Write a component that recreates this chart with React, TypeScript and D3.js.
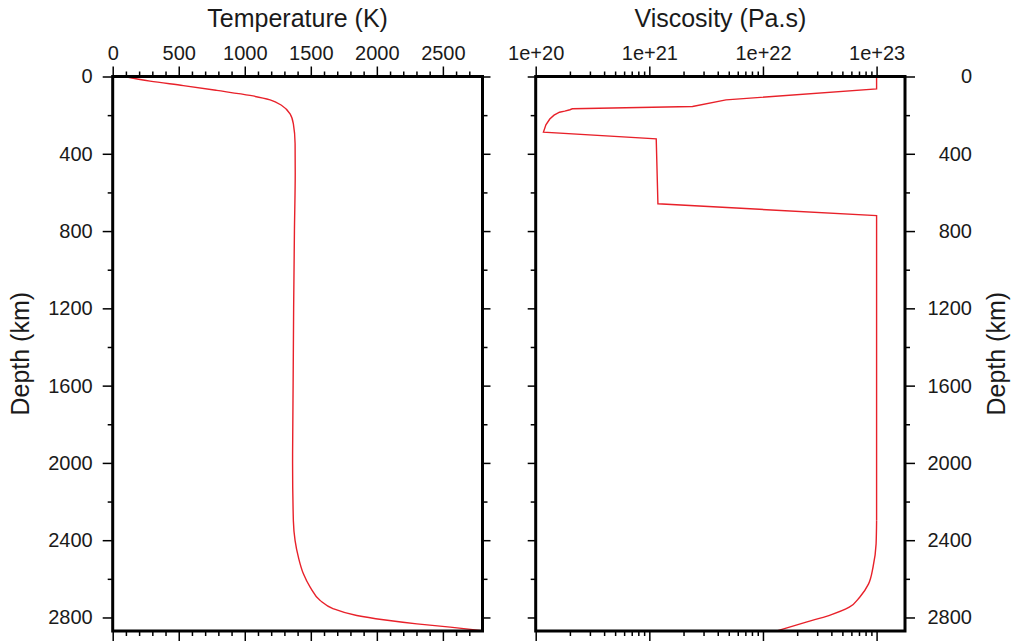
import { useEffect, useRef } from 'react';
import * as d3 from 'd3';

// temperature profile (depth in km, temperature in K)
const tempDepth = [0, 24, 47, 72, 98, 121, 150, 193, 245, 348, 500, 800, 1200, 1600, 2000, 2300, 2402, 2488, 2574, 2643, 2712, 2755, 2790, 2812, 2833, 2850, 2868];
const temperature = [90, 283, 535, 788, 1040, 1192, 1280, 1343, 1368, 1381, 1382, 1376, 1370, 1366, 1362, 1368, 1381, 1406, 1444, 1495, 1571, 1671, 1848, 2050, 2303, 2555, 2795];

// viscosity profile (depth in km, viscosity in Pa.s)
const viscDepth = [0, 64, 121, 155, 167, 172, 179, 185, 200, 220, 250, 288, 323, 659, 720, 2300, 2419, 2540, 2626, 2695, 2747, 2790, 2824, 2868];
const viscosity = [1e23, 1e23, 4.73e21, 2.4e21, 2.1e20, 2.0e20, 1.8e20, 1.62e20, 1.45e20, 1.33e20, 1.23e20, 1.17e20, 1.15e21, 1.19e21, 1e23, 1e23, 9.9e22, 9.3e22, 8.5e22, 7.1e22, 5.75e22, 3.8e22, 2.4e22, 1.35e22];

const depthTicks = [0, 400, 800, 1200, 1600, 2000, 2400, 2800];
const depthMinor = [200, 600, 1000, 1400, 1800, 2200, 2600];
const tempTicks = [0, 500, 1000, 1500, 2000, 2500];
const viscTicks = [1e20, 1e21, 1e22, 1e23];

const FONT = '"Liberation Sans", Arial, Helvetica, sans-serif';

export default function App() {
  const svgRef = useRef(null);

  useEffect(() => {
    const svg = d3.select(svgRef.current);
    svg.selectAll('*').remove();

    const top = 76.5;
    const bottom = 631;
    const left1 = 112.7, right1 = 482.5;
    const left2 = 535.7, right2 = 905;

    const y = d3.scaleLinear().domain([0, 2870]).range([top, bottom]);
    const xT = d3.scaleLinear().domain([0, 2800]).range([left1, right1]);
    const xV = d3.scaleLog().domain([1e20, Math.pow(10, 23.25)]).range([left2, right2]);

    const tempMinor = d3.range(100, 2800, 100).filter(v => v % 500 !== 0);
    const viscMinor: number[] = [];
    [20, 21, 22].forEach(e => {
      for (let m = 2; m <= 9; m++) viscMinor.push(m * Math.pow(10, e));
    });

    const styleAxis = (g) => {
      g.select('.domain').remove();
      g.selectAll('line').attr('stroke', '#000').attr('stroke-width', 1.5);
      g.selectAll('text')
        .attr('font-family', FONT)
        .attr('font-size', 20)
        .attr('fill', '#1a1a1a');
    };

    const addAxis = (axis, tx, ty) => {
      const g = svg.append('g').attr('transform', `translate(${tx},${ty})`).call(axis);
      styleAxis(g);
      return g;
    };

    // left panel axes
    addAxis(d3.axisTop(xT).tickValues(tempTicks).tickSize(10).tickPadding(7).tickFormat(d3.format('d')), 0, top);
    addAxis(d3.axisTop(xT).tickValues(tempMinor).tickSize(5).tickFormat(() => ''), 0, top);
    addAxis(d3.axisBottom(xT).tickValues(tempTicks).tickSize(10).tickFormat(() => ''), 0, bottom);
    addAxis(d3.axisBottom(xT).tickValues(tempMinor).tickSize(5).tickFormat(() => ''), 0, bottom);
    addAxis(d3.axisLeft(y).tickValues(depthTicks).tickSize(10).tickPadding(10).tickFormat(d3.format('d')), left1, 0);
    addAxis(d3.axisLeft(y).tickValues(depthMinor).tickSize(5).tickFormat(() => ''), left1, 0);
    addAxis(d3.axisRight(y).tickValues(depthTicks).tickSize(8).tickFormat(() => ''), right1, 0);
    addAxis(d3.axisRight(y).tickValues(depthMinor).tickSize(5).tickFormat(() => ''), right1, 0);

    // right panel axes
    addAxis(d3.axisTop(xV).tickValues(viscTicks).tickSize(10).tickPadding(7)
      .tickFormat(d => '1e+' + Math.round(Math.log10(d))), 0, top);
    addAxis(d3.axisTop(xV).tickValues(viscMinor).tickSize(5).tickFormat(() => ''), 0, top);
    addAxis(d3.axisBottom(xV).tickValues(viscTicks).tickSize(10).tickFormat(() => ''), 0, bottom);
    addAxis(d3.axisBottom(xV).tickValues(viscMinor).tickSize(5).tickFormat(() => ''), 0, bottom);
    addAxis(d3.axisLeft(y).tickValues(depthTicks).tickSize(8).tickFormat(() => ''), left2, 0);
    addAxis(d3.axisLeft(y).tickValues(depthMinor).tickSize(5).tickFormat(() => ''), left2, 0);
    const rAx = addAxis(d3.axisRight(y).tickValues(depthTicks).tickSize(10).tickFormat(d3.format('d')), right2, 0);
    rAx.selectAll('text').attr('x', 67).attr('text-anchor', 'end');
    addAxis(d3.axisRight(y).tickValues(depthMinor).tickSize(5).tickFormat(() => ''), right2, 0);

    // curves
    const tLine = d3.line<number>()
      .x((d, i) => xT(temperature[i]))
      .y(d => y(d))
      .curve(d3.curveMonotoneY);
    svg.append('path')
      .attr('d', tLine(tempDepth))
      .attr('fill', 'none')
      .attr('stroke', '#e8212a')
      .attr('stroke-width', 1.4);

    // viscosity: straight segments in the upper mantle, smooth near the base
    const viscPts = viscDepth.map((d, i) => [xV(viscosity[i]), y(d)] as [number, number]);
    const split = viscDepth.indexOf(2300);
    const upper = d3.line();
    const lower = d3.line().curve(d3.curveMonotoneY);
    [[upper, viscPts.slice(0, split + 1)], [lower, viscPts.slice(split)]].forEach(([gen, pts]) => {
      svg.append('path')
        .attr('d', gen(pts))
        .attr('fill', 'none')
        .attr('stroke', '#e8212a')
        .attr('stroke-width', 1.4);
    });

    // frames
    [[left1, right1], [left2, right2]].forEach(([l, r]) => {
      svg.append('rect')
        .attr('x', l).attr('y', top)
        .attr('width', r - l).attr('height', bottom - top)
        .attr('fill', 'none')
        .attr('stroke', '#000')
        .attr('stroke-width', 3);
    });

    // titles
    const title = (txt, x, yy, rot = false) => {
      svg.append('text')
        .attr('transform', rot ? `translate(${x},${yy}) rotate(-90)` : `translate(${x},${yy})`)
        .attr('text-anchor', 'middle')
        .attr('font-family', FONT)
        .attr('font-size', 25)
        .attr('fill', '#1a1a1a')
        .text(txt);
    };
    title('Temperature (K)', (left1 + right1) / 2, 27);
    title('Viscosity (Pa.s)', (left2 + right2) / 2, 27);
    title('Depth (km)', 29, (top + bottom) / 2, true);
    title('Depth (km)', 1005, (top + bottom) / 2, true);
  }, []);

  return (
    <div style={{ position: 'absolute', left: 0, top: 0, background: '#fff' }}>
      <svg ref={svgRef} width={1011} height={643} style={{ display: 'block' }} />
    </div>
  );
}
